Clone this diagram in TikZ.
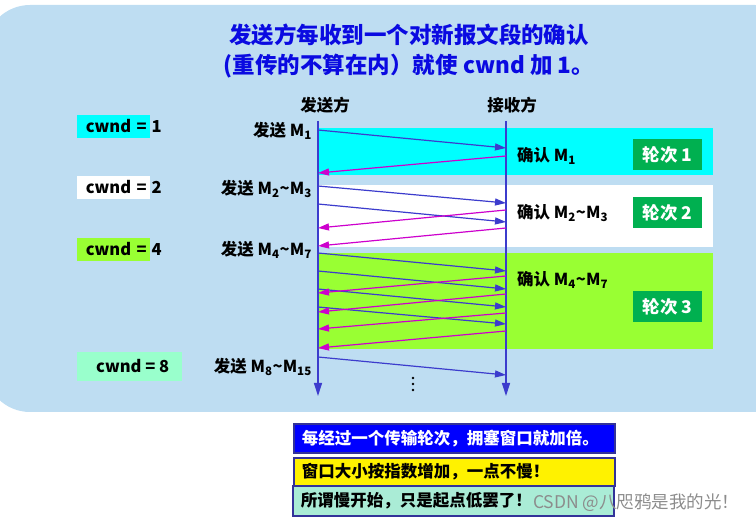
\documentclass[tikz,border=0pt]{standalone}
\usepackage{fontspec}
\setmainfont{Noto Sans CJK SC}
\usetikzlibrary{arrows.meta}
\definecolor{BgBlue}{RGB}{190,221,242}
\definecolor{TitleBlue}{RGB}{10,10,225}
\definecolor{SendBlue}{RGB}{60,60,205}
\definecolor{AckPink}{RGB}{205,0,205}
\definecolor{RoundGreen}{RGB}{0,176,80}
\definecolor{BandCyan}{RGB}{0,255,255}
\definecolor{BandGreen}{RGB}{153,255,51}
\definecolor{MintGreen}{RGB}{153,255,204}
\definecolor{BoxBorder}{RGB}{51,51,153}
\definecolor{NoteMint}{RGB}{170,236,214}
\tikzset{
  band/.style={minimum width=395pt, inner sep=0pt, anchor=north west},
  lbl/.style={font=\fontsize{16.5}{19}\selectfont\bfseries, inner sep=1pt},
  cwbox/.style={lbl, anchor=west, text width=66pt, align=right, inner xsep=3.5pt,
    minimum height=23pt},
  roundbox/.style={fill=RoundGreen, text=white, minimum width=69pt, minimum height=31pt,
    inner sep=0pt, font=\fontsize{17.5}{20}\selectfont\bfseries},
  notebox/.style={draw=BoxBorder, line width=1.5pt, anchor=west, text width=305pt,
    inner xsep=8pt, inner ysep=0pt, align=left, font=\fontsize{16.5}{19}\selectfont\bfseries},
  axisline/.style={SendBlue, line width=1.2pt, -{Triangle[length=13pt,width=8pt]}},
  sendarrow/.style={SendBlue, line width=1.2pt, -{Triangle[length=11pt,width=7pt]}},
  ackarrow/.style={AckPink, line width=1.2pt, -{Triangle[length=11pt,width=7pt]}},
}
\begin{document}
\begin{tikzpicture}[x=1pt, y=-1pt]
  \useasboundingbox (0,0) rectangle (756,526);
  % background panel
  \fill[BgBlue, rounded corners=45pt] (-15,5) rectangle (800,412);

  \node[text=TitleBlue, align=center, font=\fontsize{22.5}{30}\selectfont\bfseries] (title) at (409,51)
    {发送方每收到一个对新报文段的确认\\(重传的不算在内）就使 cwnd 加 1。};

  % transmission rounds
  \node[band, fill=BandCyan, minimum height=47pt] (band1) at (318,128) {};
  \node[band, fill=white, minimum height=62pt] (band2) at (318,185) {};
  \node[band, fill=BandGreen, minimum height=96pt] (band3) at (318,253) {};

  \node[lbl] (sender) at (325,105) {发送方};
  \node[lbl] (receiver) at (512,105) {接收方};

  \coordinate (stop) at (318,121);
  \coordinate (sbot) at (318,396);
  \coordinate (rtop) at (506,121);
  \coordinate (rbot) at (506,396);
  \draw[axisline] (stop) -- (sbot);
  \draw[axisline] (rtop) -- (rbot);

  % segments sent
  \foreach \i/\ys/\yr in {1/130/148, 2/186/203, 3/204/222, 4/253/271,
                          5/271/289, 6/289/307, 7/307/324, 8/357/375} {
    \coordinate (snd\i) at (318,\ys);
    \coordinate (rcv\i) at (506,\yr);
    \draw[sendarrow] (snd\i) -- (rcv\i);
  }
  % acknowledgements
  \foreach \i/\yr/\ys in {1/156/173, 2/210/228, 3/228/246, 4/276/293,
                          5/294/312, 6/313/329, 7/331/348} {
    \coordinate (ackr\i) at (506,\yr);
    \coordinate (acks\i) at (318,\ys);
    \draw[ackarrow] (ackr\i) -- (acks\i);
  }

  \node[lbl, anchor=east] (send1) at (313,131) {发送 M\textsubscript{1}};
  \node[lbl, anchor=east] (send2) at (313,189) {发送 M\textsubscript{2}\textasciitilde M\textsubscript{3}};
  \node[lbl, anchor=east] (send3) at (313,250) {发送 M\textsubscript{4}\textasciitilde M\textsubscript{7}};
  \node[lbl, anchor=east] (send4) at (313,367) {发送 M\textsubscript{8}\textasciitilde M\textsubscript{15}};

  \node[lbl, anchor=west] (ack1) at (516,156) {确认 M\textsubscript{1}};
  \node[lbl, anchor=west] (ack2) at (516,213) {确认 M\textsubscript{2}\textasciitilde M\textsubscript{3}};
  \node[lbl, anchor=west] (ack3) at (516,280) {确认 M\textsubscript{4}\textasciitilde M\textsubscript{7}};

  \node[roundbox] (round1) at (667.5,154.5) {轮次 1};
  \node[roundbox] (round2) at (667.5,213) {轮次 2};
  \node[roundbox] (round3) at (667.5,306.5) {轮次 3};

  % more to come
  \foreach \y in {378,384,390} \fill (413,\y) circle (1.3pt);

  % congestion window
  \node[cwbox, fill=BandCyan] (cw1) at (77,126.5) {cwnd =};
  \node[lbl, anchor=west] (cwv1) at (cw1.east) {1};
  \node[cwbox, fill=white] (cw2) at (77,187.5) {cwnd =};
  \node[lbl, anchor=west] (cwv2) at (cw2.east) {2};
  \node[cwbox, fill=BandGreen] (cw4) at (77,249.5) {cwnd =};
  \node[lbl, anchor=west] (cwv4) at (cw4.east) {4};
  \node[lbl, anchor=west, fill=MintGreen, minimum width=105pt, minimum height=29pt] (cw8)
    at (77,366.5) {\hspace{6pt}cwnd = 8};

  % notes
  \node[notebox, fill=blue, text=white, minimum height=29pt] (note1) at (293,438.5)
    {每经过一个传输轮次，拥塞窗口就加倍。};
  \node[notebox, fill=yellow, minimum height=28pt] (note2) at (293,472)
    {窗口大小按指数增加，一点不慢！};
  \node[notebox, fill=NoteMint, minimum height=30pt] (note3) at (292,501)
    {所谓慢开始，只是起点低罢了！};

  \node[text=black!45, font=\fontsize{17.5}{20}\selectfont, anchor=east] (mark) at (743,503)
    {CSDN @八咫鸦是我的光！};
\end{tikzpicture}
\end{document}
